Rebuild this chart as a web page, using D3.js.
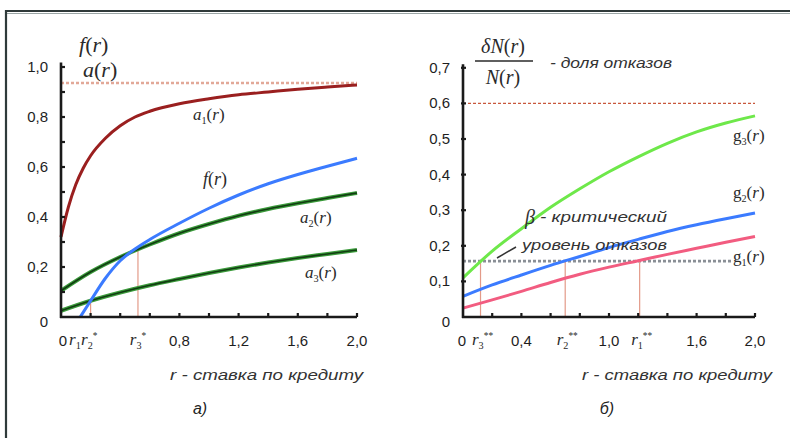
<!DOCTYPE html>
<html><head><meta charset="utf-8">
<script src="https://cdn.jsdelivr.net/npm/d3@7"></script>
<style>
html,body{margin:0;padding:0;background:#fff;}
svg{display:block;}
</style></head>
<body>
<svg id="c" width="790" height="438"></svg>
<script>
// ---------- DATA ----------
// Panel a): shares vs. loan rate r
const a1R = [0,0.05,0.1,0.15,0.2,0.3,0.4,0.5,0.6,0.8,1.0,1.2,1.4,1.6,1.8,2.0];
const a1V = [0.32,0.44,0.53,0.595,0.645,0.715,0.765,0.80,0.823,0.853,0.873,0.889,0.90,0.911,0.92,0.928];
const fR  = [0.13,0.2,0.3,0.4,0.5,0.6,0.8,1.0,1.2,1.4,1.6,1.8,2.0];
const fV  = [0,0.065,0.155,0.225,0.272,0.31,0.375,0.435,0.488,0.533,0.57,0.603,0.635];
const aR  = [0,0.2,0.4,0.6,0.8,1.0,1.2,1.4,1.6,1.8,2.0];
const a2V = [0.105,0.18,0.24,0.29,0.335,0.372,0.405,0.432,0.455,0.476,0.496];
const a3V = [0.025,0.065,0.098,0.127,0.152,0.176,0.198,0.218,0.236,0.252,0.268];
const capA = 0.936;
const starR = [0.08, 0.2, 0.52];        // r1*, r2*, r3*
const starV = [null, 0.068, 0.276];      // drop-line heights
const xTicksA = [0.8, 1.2, 1.6, 2.0];
const xTickLabelsA = ["0,8","1,2","1,6","2,0"];
const yTicksA = [0,0.2,0.4,0.6,0.8,1.0];
const yTickLabelsA = ["0","0,2","0,4","0,6","0,8","1,0"];

// Panel б): share of refusals
const gR  = [0,0.2,0.4,0.6,0.8,1.0,1.2,1.4,1.6,1.8,2.0];
const g3V = [0.11,0.185,0.248,0.308,0.36,0.408,0.45,0.488,0.52,0.545,0.565];
const g2V = [0.058,0.09,0.118,0.145,0.17,0.195,0.218,0.24,0.259,0.276,0.292];
const g1V = [0.025,0.048,0.072,0.097,0.12,0.14,0.158,0.176,0.193,0.21,0.226];
const capB = 0.6;
const beta = 0.157;
const dstarR = [1.21, 0.70, 0.12];       // r1**, r2**, r3**
const xTicksB = [0, 0.4, 1.0, 1.6, 2.0];
const xTickLabelsB = ["0","0,4","1,0","1,6","2,0"];
const yTicksB = [0,0.1,0.2,0.3,0.4,0.5,0.6,0.7];
const yTickLabelsB = ["0","0,1","0,2","0,3","0,4","0,5","0,6","0,7"];

// ---------- DRAW ----------
const svg = d3.select("#c");
const TXT = "#1e1e1e";
const SANS = "'Liberation Sans', Arial, sans-serif";
const SERIF = "'Liberation Serif', 'Times New Roman', serif";

// frame
svg.append("line").attr("x1",6).attr("y1",11).attr("x2",790).attr("y2",11).attr("stroke","#2f3a3a").attr("stroke-width",2.2);
svg.append("line").attr("x1",6).attr("y1",13.5).attr("x2",790).attr("y2",13.5).attr("stroke","#9aa5a5").attr("stroke-width",1);
svg.append("line").attr("x1",6).attr("y1",10).attr("x2",6).attr("y2",438).attr("stroke","#2f3a3a").attr("stroke-width",2.2);

const xA = d3.scaleLinear([0,2],[61,357]);
const yA = d3.scaleLinear([0,1],[317,67]);
const xB = d3.scaleLinear([0,2],[463,755]);
const yB = d3.scaleLinear([0,1],[317,-39]);

function mathLabel(x, y, parts, size, anchor){
  const t = svg.append("text").attr("x",x).attr("y",y).attr("fill","#2a2a2a")
    .attr("font-family",SERIF).attr("font-size",size).attr("text-anchor",anchor||"start");
  parts.forEach(p=>{
    const s = t.append("tspan").text(p.t);
    if(p.it) s.attr("font-style","italic");
    if(p.sub){ s.attr("font-size",size*0.6).attr("dy",size*0.22); }
    if(p.sup){ s.attr("font-size",size*0.55).attr("dy",-size*0.55); }
    if(p.back) s.attr("dy",p.back);
  });
  return t;
}

function line(xs, ys, sx, sy){
  return d3.line().x((d,i)=>sx(xs[i])).y((d,i)=>sy(ys[i])).curve(d3.curveMonotoneX)(ys);
}
function itText(x, y, txt, size, len, anchor){
  return svg.append("text").attr("x",x).attr("y",y).attr("font-family",SANS).attr("font-style","italic")
    .attr("font-size",size).attr("fill","#333").attr("text-anchor",anchor||"start")
    .attr("textLength",len).attr("lengthAdjust","spacingAndGlyphs").text(txt);
}

// ===== Panel a =====
svg.append("line").attr("x1",xA(0)).attr("x2",xA(2)).attr("y1",yA(capA)).attr("y2",yA(capA))
  .attr("stroke","#e2a898").attr("stroke-width",2.4).attr("stroke-dasharray","3,2");
starR.forEach((r,i)=>{ if(starV[i]!==null){
  svg.append("line").attr("x1",xA(r)).attr("x2",xA(r)).attr("y1",yA(0)).attr("y2",yA(starV[i]))
    .attr("stroke","#e39a88").attr("stroke-width",1.2);
}});
svg.append("path").attr("d",line(a1R,a1V,xA,yA)).attr("fill","none").attr("stroke","#9a1f1f").attr("stroke-width",3);
[a2V,a3V].forEach(v=>{
  svg.append("path").attr("d",line(aR,v,xA,yA)).attr("fill","none").attr("stroke","#3a9a3a").attr("stroke-width",4);
  svg.append("path").attr("d",line(aR,v,xA,yA)).attr("fill","none").attr("stroke","#123d12").attr("stroke-width",1.6);
});
svg.append("path").attr("d",line(fR,fV,xA,yA)).attr("fill","none").attr("stroke","#3b7bff").attr("stroke-width",3);

// axes
svg.append("line").attr("x1",xA(0)).attr("x2",xA(0)).attr("y1",yA(0)+1).attr("y2",yA(1.018)).attr("stroke","#1a1a1a").attr("stroke-width",2.6);
svg.append("line").attr("x1",xA(0)-1).attr("x2",xA(2)).attr("y1",yA(0)).attr("y2",yA(0)).attr("stroke","#1a1a1a").attr("stroke-width",2.6);
d3.range(1,11).forEach(k=>{ const v=k/10;
  svg.append("line").attr("x1",xA(0)).attr("x2",xA(0)+4).attr("y1",yA(v)).attr("y2",yA(v)).attr("stroke","#1a1a1a").attr("stroke-width",2.2);
});
d3.range(1,11).forEach(k=>{ const r=k*0.2;
  svg.append("line").attr("x1",xA(r)).attr("x2",xA(r)).attr("y1",yA(0)).attr("y2",yA(0)-4).attr("stroke","#1a1a1a").attr("stroke-width",2.2);
});
yTicksA.forEach((v,i)=>{
  svg.append("text").attr("x",48).attr("y",yA(v)+(v===0?10:5)).attr("text-anchor","end")
    .attr("font-family",SANS).attr("font-size",15).attr("fill",TXT).text(yTickLabelsA[i]);
});
xTicksA.forEach((r,i)=>{
  svg.append("text").attr("x",xA(r)).attr("y",346).attr("text-anchor","middle")
    .attr("font-family",SANS).attr("font-size",15).attr("fill",TXT).text(xTickLabelsA[i]);
});
svg.append("text").attr("x",67).attr("y",346).attr("text-anchor","end")
  .attr("font-family",SANS).attr("font-size",15).attr("fill",TXT).text("0");
mathLabel(69, 345, [{t:"r",it:true},{t:"1",sub:true}], 17);
mathLabel(81, 345, [{t:"r",it:true},{t:"2",sub:true},{t:"*",sup:true}], 17);
mathLabel(xA(starR[2]), 345, [{t:"r",it:true},{t:"3",sub:true},{t:"*",sup:true}], 17, "middle");

mathLabel(79, 52, [{t:"f",it:true},{t:"(",},{t:"r",it:true},{t:")"}], 22);
mathLabel(83, 77, [{t:"a",it:true},{t:"(",},{t:"r",it:true},{t:")"}], 22);
mathLabel(193, 120, [{t:"a",it:true},{t:"1",sub:true},{t:"(",back:-17*0.22},{t:"r",it:true},{t:")"}], 17);
mathLabel(203, 185, [{t:"f",it:true},{t:"(",},{t:"r",it:true},{t:")"}], 18);
mathLabel(300, 223, [{t:"a",it:true},{t:"2",sub:true},{t:"(",back:-17*0.22},{t:"r",it:true},{t:")"}], 17);
mathLabel(305, 278, [{t:"a",it:true},{t:"3",sub:true},{t:"(",back:-17*0.22},{t:"r",it:true},{t:")"}], 17);

itText(170, 380, "r - ставка по кредиту", 15, 193);
svg.append("text").attr("x",200).attr("y",414).attr("text-anchor","middle").attr("font-family",SANS)
  .attr("font-style","italic").attr("font-size",16).attr("fill","#222").text("а)");

// ===== Panel б =====
svg.append("line").attr("x1",xB(0)).attr("x2",xB(2)).attr("y1",yB(capB)).attr("y2",yB(capB))
  .attr("stroke","#c8583c").attr("stroke-width",1.2).attr("stroke-dasharray","3,2");
svg.append("line").attr("x1",xB(0)).attr("x2",733).attr("y1",yB(beta)).attr("y2",yB(beta))
  .attr("stroke","#8a8f96").attr("stroke-width",2.6).attr("stroke-dasharray","3,2");
dstarR.forEach(r=>{
  svg.append("line").attr("x1",xB(r)).attr("x2",xB(r)).attr("y1",yB(0)).attr("y2",yB(beta))
    .attr("stroke","#e39a88").attr("stroke-width",1.2);
});
svg.append("path").attr("d",line(gR,g3V,xB,yB)).attr("fill","none").attr("stroke","#6ee84a").attr("stroke-width",3);
svg.append("path").attr("d",line(gR,g2V,xB,yB)).attr("fill","none").attr("stroke","#3b7bff").attr("stroke-width",3);
svg.append("path").attr("d",line(gR,g1V,xB,yB)).attr("fill","none").attr("stroke","#f25c80").attr("stroke-width",3);

svg.append("line").attr("x1",xB(0)).attr("x2",xB(0)).attr("y1",yB(0)+1).attr("y2",yB(0.71)).attr("stroke","#1a1a1a").attr("stroke-width",2.6);
svg.append("line").attr("x1",xB(0)-1).attr("x2",xB(2)).attr("y1",yB(0)).attr("y2",yB(0)).attr("stroke","#1a1a1a").attr("stroke-width",2.6);
d3.range(1,8).forEach(k=>{ const v=k/10;
  svg.append("line").attr("x1",xB(0)-2).attr("x2",xB(0)+3).attr("y1",yB(v)).attr("y2",yB(v)).attr("stroke","#1a1a1a").attr("stroke-width",2.2);
});
d3.range(1,11).forEach(k=>{ const r=k*0.2;
  svg.append("line").attr("x1",xB(r)).attr("x2",xB(r)).attr("y1",yB(0)).attr("y2",yB(0)-4).attr("stroke","#1a1a1a").attr("stroke-width",2.2);
});
yTicksB.forEach((v,i)=>{
  svg.append("text").attr("x",450).attr("y",yB(v)+(v===0?10:5)).attr("text-anchor","end")
    .attr("font-family",SANS).attr("font-size",15).attr("fill",TXT).text(yTickLabelsB[i]);
});
xTicksB.forEach((r,i)=>{
  svg.append("text").attr("x",xB(r)+(r===0?-1:0)).attr("y",346).attr("text-anchor","middle")
    .attr("font-family",SANS).attr("font-size",15).attr("fill",TXT).text(xTickLabelsB[i]);
});
["1","2","3"].forEach((s,i)=>{
  mathLabel(xB(dstarR[i])+2, 345, [{t:"r",it:true},{t:s,sub:true},{t:"**",sup:true}], 17, "middle");
});

mathLabel(503, 53, [{t:"δN",it:true},{t:"("},{t:"r",it:true},{t:")"}], 20, "middle");
svg.append("line").attr("x1",475).attr("x2",533).attr("y1",61).attr("y2",61).attr("stroke","#2a2a2a").attr("stroke-width",1.5);
mathLabel(503, 84, [{t:"N",it:true},{t:"("},{t:"r",it:true},{t:")"}], 20, "middle");
itText(550, 68, "- доля отказов", 15, 122);

mathLabel(733, 141, [{t:"g"},{t:"3",sub:true},{t:"(",back:-17*0.22},{t:"r",it:true},{t:")"}], 17);
mathLabel(733, 198, [{t:"g"},{t:"2",sub:true},{t:"(",back:-17*0.22},{t:"r",it:true},{t:")"}], 17);
mathLabel(733, 262, [{t:"g"},{t:"1",sub:true},{t:"(",back:-17*0.22},{t:"r",it:true},{t:")"}], 17);

// beta annotation
svg.append("text").attr("x",525).attr("y",224).attr("font-family",SERIF).attr("font-style","italic")
  .attr("font-size",20).attr("fill","#333").text("β");
itText(540, 222, "- критический", 15, 127);
itText(522, 250, "уровень отказов", 15, 145);
svg.append("line").attr("x1",497).attr("y1",258).attr("x2",516).attr("y2",247).attr("stroke","#333").attr("stroke-width",1.5);

itText(582, 380, "r - ставка по кредиту", 15, 190);
svg.append("text").attr("x",607).attr("y",414).attr("text-anchor","middle").attr("font-family",SANS)
  .attr("font-style","italic").attr("font-size",16).attr("fill","#222").text("б)");
</script>
</body></html>
